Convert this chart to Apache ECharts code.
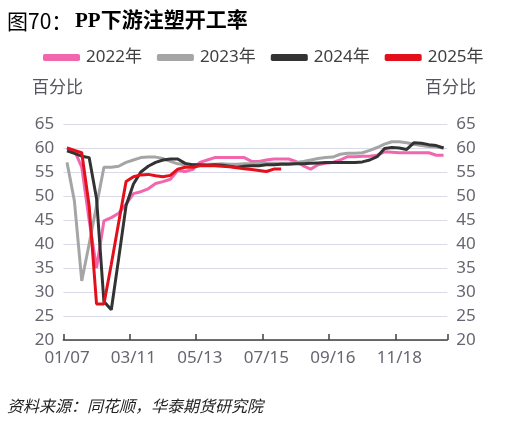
<!DOCTYPE html>
<html>
<head>
<meta charset="utf-8">
<script src="https://cdn.jsdelivr.net/npm/echarts@6/dist/echarts.min.js"></script>
<style>
html,body{margin:0;padding:0;background:#fff;}
#c{width:519px;height:426px;}
</style>
</head>
<body>
<div id="c"></div>
<script>
var categories = ['01/07','01/14','01/21','01/28','02/04','02/11','02/18','02/25','03/04','03/11',
'03/18','03/25','04/01','04/08','04/15','04/22','04/29','05/06','05/13','05/20',
'05/27','06/03','06/10','06/17','06/24','07/01','07/08','07/15','07/22','07/29',
'08/05','08/12','08/19','08/26','09/02','09/09','09/16','09/23','09/30','10/07',
'10/14','10/21','10/28','11/04','11/11','11/18','11/25','12/02','12/09','12/16',
'12/23','12/30'];

var s2022 = [60,59.5,56,45,35,44.8,45.5,46.4,48.3,50.5,
50.9,51.5,52.6,53,53.5,55.3,55.1,55.5,57,57.5,
58,58,58,58,58,57.2,57.2,57.5,57.7,57.7,
57.7,57.2,56.3,55.6,56.5,56.8,57,57.5,58.2,58.2,
58.3,58.3,58.5,59.2,59.1,59,59,59,59,59,
58.5,58.5];

var s2023 = [57,49,32.3,40,48,56,56,56.2,57,57.5,
58,58.1,58.1,57.8,57.2,56.7,56.5,56.5,56.5,56.6,
56.6,56.7,56.6,56.6,56.7,56.7,56.8,56.8,56.8,56.8,
56.8,57,57.2,57.5,57.8,58,58.1,58.7,58.9,58.9,
59,59.5,60.1,60.8,61.3,61.3,61.1,60.8,60.5,60.3,
60.2,60];

var s2024 = [59.4,58.9,58.3,58,49.5,28,26.3,37,48,52.5,
55,56.2,57,57.5,57.7,57.7,56.8,56.5,56.5,56.4,
56.5,56.4,56.2,56,56.2,56.3,56.3,56.5,56.5,56.6,
56.6,56.7,56.7,56.8,56.9,57,57,57,57,57,
57.1,57.5,58.2,59.9,60.1,60,59.7,61.1,61,60.7,
60.5,60];

var s2025 = [60,59.5,59,48,27.5,27.5,35.8,44.5,53,54,
54.4,54.5,54.2,54,54.3,55.6,56,56,56.3,56.3,
56.3,56.2,56.1,55.9,55.7,55.5,55.3,55.1,55.6,55.6];

var yTicks = {min:20, max:65, interval:5};
var seriesNames = ['2022年','2023年','2024年','2025年'];
var colors = ['#F266AE','#A5A5A5','#333333','#E3101C'];

var chart = echarts.init(document.getElementById('c'));
var font = '"Noto Sans", "Noto Sans CJK SC", sans-serif';
function mk(name, data, color, z){
  return {name:name, type:'line', data:data, symbol:'none', smooth:false, z:z,
    lineStyle:{color:color, width:3}, itemStyle:{color:color}};
}
var yAxisCommon = {
  type:'value', min:yTicks.min, max:yTicks.max, interval:yTicks.interval,
  axisLine:{show:false}, axisTick:{show:false},
  axisLabel:{color:'#666670', fontSize:17, fontFamily:font, margin:9},
  splitLine:{lineStyle:{color:'#D9DAE8', width:1}}
};
chart.setOption({
  animation:false,
  color:colors,
  textStyle:{fontFamily:font},
  grid:{left:63.3, right:71.7, top:124, bottom:86, containLabel:false},
  legend:{
    top:44, left:38, itemWidth:37, itemHeight:7, itemGap:15,
    icon:'roundRect',
    textStyle:{color:'#404040', fontSize:17, fontFamily:font, padding:[0,0,0,1]},
    data:seriesNames
  },
  xAxis:{
    type:'category', data:categories, boundaryGap:true,
    axisLine:{lineStyle:{color:'#404040', width:1.5}},
    axisTick:{show:true, inside:true, length:6, interval:8, lineStyle:{color:'#404040', width:1.5}},
    axisLabel:{interval:8, color:'#666670', fontSize:17, fontFamily:font, margin:10},
    splitLine:{show:false}
  },
  yAxis:[
    Object.assign({position:'left'}, yAxisCommon),
    Object.assign({position:'right'}, yAxisCommon, {splitLine:{show:false}})
  ],
  graphic:[
    {type:'text', left:7, top:11, style:{text:'图70：', font:'21px "Noto Sans CJK SC", sans-serif', fill:'#000'}},
    {type:'text', left:75, top:11, style:{text:'PP下游注塑开工率', font:'bold 21px "Liberation Serif", "Noto Sans CJK SC", serif', fill:'#000'}},
    {type:'text', left:32, top:78, style:{text:'百分比', font:'17px "Noto Sans CJK SC", sans-serif', fill:'#555560'}},
    {type:'text', left:425, top:78, style:{text:'百分比', font:'17px "Noto Sans CJK SC", sans-serif', fill:'#555560'}},
    {type:'text', left:7, top:398, style:{text:'资料来源：同花顺，华泰期货研究院', font:'italic 16px "Noto Sans CJK SC", sans-serif', fill:'#222'}}
  ],
  series:[
    mk(seriesNames[0], s2022, colors[0], 2),
    mk(seriesNames[1], s2023, colors[1], 3),
    mk(seriesNames[2], s2024, colors[2], 4),
    mk(seriesNames[3], s2025, colors[3], 5)
  ]
});
</script>
</body>
</html>
